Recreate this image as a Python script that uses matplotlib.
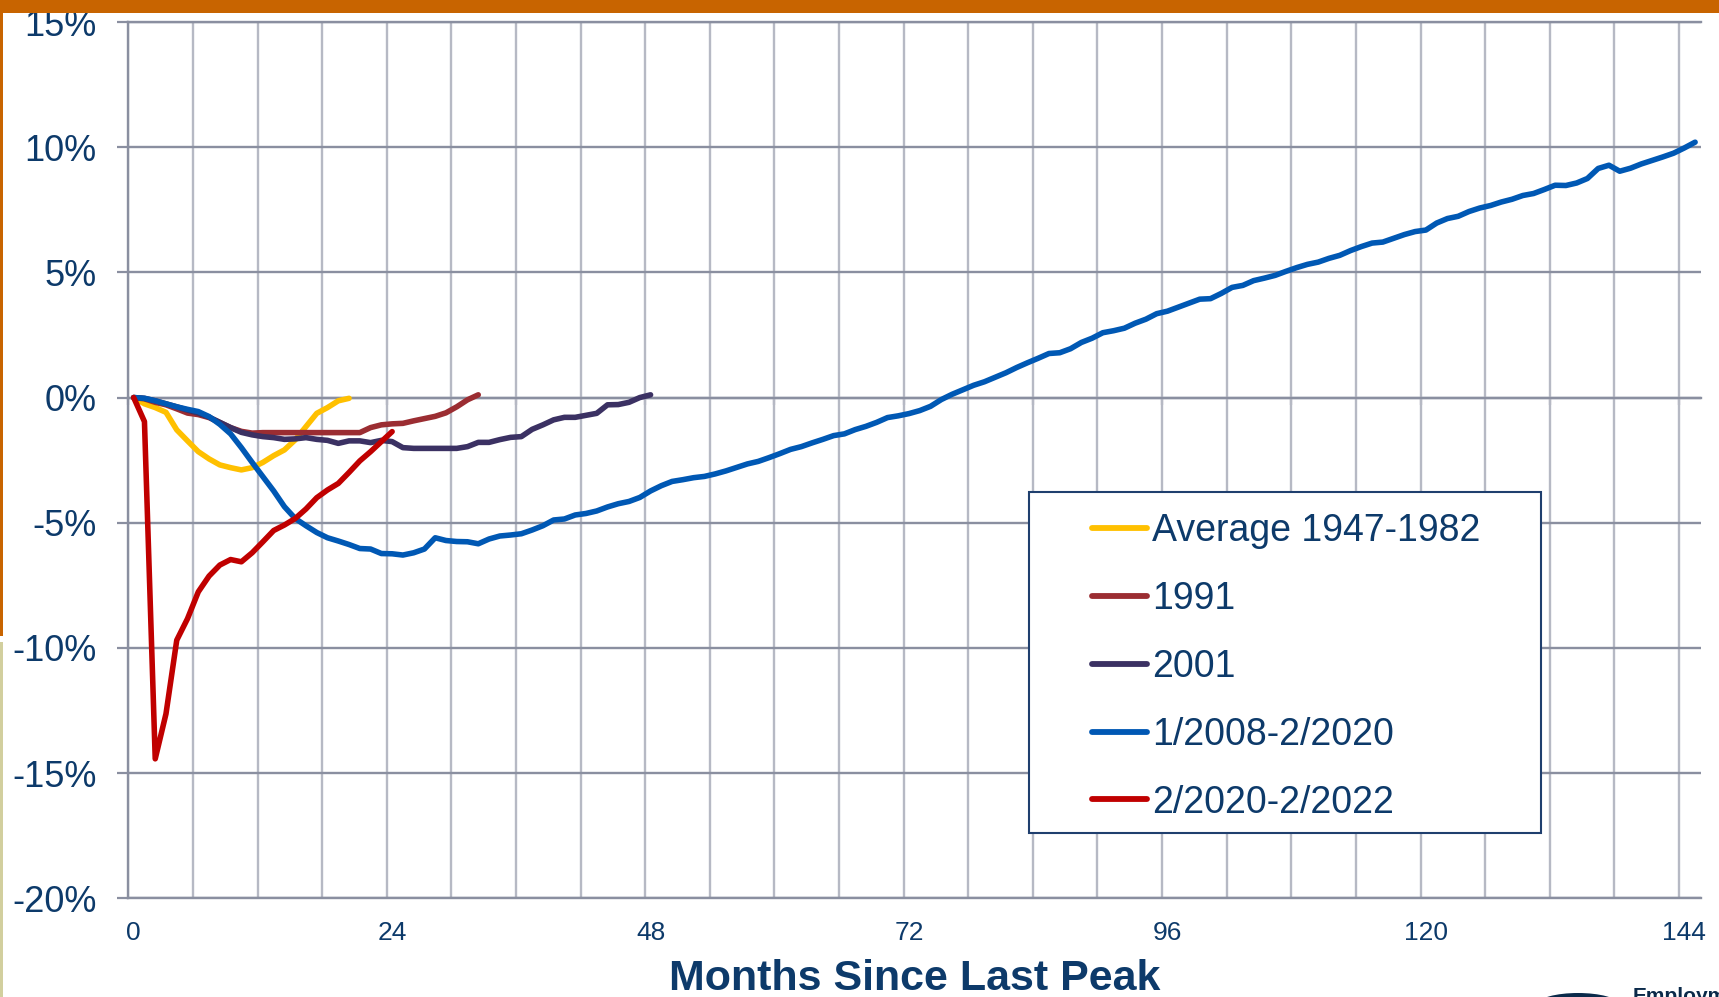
import numpy as np
import matplotlib
matplotlib.use("Agg")
import matplotlib.pyplot as plt
from matplotlib.patches import Rectangle, Ellipse

plt.rcParams['font.family'] = ['Liberation Sans', 'DejaVu Sans']

# ---- data: % change in payroll employment vs months since last peak ----
avg_1947_1982 = [0, -0.25, -0.40, -0.59, -1.29, -1.73, -2.16, -2.45, -2.69, -2.80,
                 -2.89, -2.80, -2.59, -2.32, -2.09, -1.69, -1.16, -0.63, -0.40, -0.13,
                 -0.03]
rec_1991 = [0, -0.05, -0.19, -0.29, -0.45, -0.62, -0.68, -0.80, -1.00, -1.20,
            -1.35, -1.42, -1.40, -1.40, -1.40, -1.40, -1.40, -1.40, -1.40, -1.40,
            -1.40, -1.40, -1.20, -1.09, -1.05, -1.03, -0.93, -0.84, -0.75, -0.61,
            -0.37, -0.09, 0.11]
rec_2001 = [0, -0.03, -0.13, -0.25, -0.37, -0.50, -0.62, -0.78, -0.99, -1.20,
            -1.39, -1.49, -1.56, -1.60, -1.67, -1.65, -1.60, -1.67, -1.71, -1.83,
            -1.73, -1.73, -1.80, -1.71, -1.76, -2.00, -2.03, -2.03, -2.03, -2.03,
            -2.03, -1.96, -1.79, -1.79, -1.68, -1.59, -1.56, -1.27, -1.09, -0.89,
            -0.79, -0.79, -0.71, -0.63, -0.29, -0.28, -0.19, 0.00, 0.11]
rec_2008_2020 = [0, -0.03, -0.13, -0.25, -0.37, -0.47, -0.56, -0.76, -1.07, -1.45,
                 -2.00, -2.59, -3.16, -3.73, -4.36, -4.83, -5.12, -5.39, -5.60, -5.73,
                 -5.87, -6.03, -6.05, -6.23, -6.24, -6.29, -6.20, -6.05, -5.60, -5.71,
                 -5.75, -5.76, -5.84, -5.65, -5.53, -5.49, -5.44, -5.29, -5.12, -4.89,
                 -4.85, -4.69, -4.63, -4.53, -4.37, -4.24, -4.15, -3.99, -3.73, -3.52,
                 -3.35, -3.28, -3.20, -3.15, -3.05, -2.93, -2.79, -2.65, -2.55, -2.40,
                 -2.24, -2.07, -1.96, -1.81, -1.67, -1.52, -1.45, -1.28, -1.15, -0.99,
                 -0.80, -0.73, -0.64, -0.52, -0.35, -0.08, 0.13, 0.31, 0.49, 0.63,
                 0.81, 0.99, 1.20, 1.39, 1.57, 1.76, 1.79, 1.95, 2.20, 2.37,
                 2.59, 2.67, 2.77, 2.97, 3.13, 3.35, 3.45, 3.61, 3.77, 3.93,
                 3.95, 4.16, 4.40, 4.48, 4.67, 4.77, 4.88, 5.04, 5.19, 5.32,
                 5.41, 5.56, 5.68, 5.87, 6.03, 6.17, 6.21, 6.36, 6.51, 6.63,
                 6.69, 6.97, 7.15, 7.24, 7.43, 7.57, 7.67, 7.81, 7.92, 8.07,
                 8.15, 8.31, 8.48, 8.47, 8.57, 8.75, 9.15, 9.28, 9.04, 9.16,
                 9.33, 9.47, 9.61, 9.76, 9.97, 10.20]
rec_2020_2022 = [0, -0.96, -14.43, -12.63, -9.69, -8.83, -7.76, -7.13, -6.69, -6.47,
                 -6.56, -6.20, -5.76, -5.31, -5.09, -4.83, -4.45, -4.00, -3.69, -3.43,
                 -2.99, -2.53, -2.16, -1.76, -1.36]

series_labels = ['Average 1947-1982', '1991', '2001', '1/2008-2/2020', '2/2020-2/2022']
series_values = [avg_1947_1982, rec_1991, rec_2001, rec_2008_2020, rec_2020_2022]
series_colors = ['#FFC000', '#9B2D32', '#3B3163', '#0058B4', '#C00000']

x_ticks = [0, 24, 48, 72, 96, 120, 144]
y_ticks = [-20, -15, -10, -5, 0, 5, 10, 15]
y_labels = ['-20%', '-15%', '-10%', '-5%', '0%', '5%', '10%', '15%']

navy = '#0D3A6A'
grid_dark = '#8A8FA0'
grid_light = '#B6B9C4'

# ==========================================
# Figure & axes
# ==========================================
W, H = 1719, 997
fig = plt.figure(figsize=(W / 100, H / 100), dpi=100)
fig.patch.set_facecolor('white')
ax = fig.add_axes([128.3 / W, 98.7 / H, (1700.5 - 128.3) / W, (898.3 - 22.0) / H])

for vals, lab, col in zip(series_values, series_labels, series_colors):
    months = np.arange(len(vals))
    ax.plot(months, vals, color=col, lw=4.0, label=lab,
            solid_capstyle='round', solid_joinstyle='round', zorder=3)

ax.set_xlim(-0.5, 145.5)
ax.set_ylim(-20, 15)

# category-style axis: labels on categories, gridlines between categories
ax.set_xticks(x_ticks)
ax.set_xticklabels([str(t) for t in x_ticks])
ax.set_xticks(np.arange(-0.5, 144, 6), minor=True)
ax.tick_params(axis='x', which='both', length=0, pad=16, labelsize=19, labelcolor=navy)
ax.grid(axis='x', which='minor', color=grid_light, lw=1.7, zorder=1)

ax.set_yticks(y_ticks)
ax.set_yticklabels(y_labels)
ax.tick_params(axis='y', direction='out', length=8, width=1.6, color=grid_dark,
               pad=15, labelsize=26, labelcolor=navy)
ax.grid(axis='y', which='major', color=grid_dark, lw=1.7, zorder=1)
ax.set_axisbelow(True)

ax.spines['right'].set_visible(False)
for side in ['left', 'bottom', 'top']:
    ax.spines[side].set_color(grid_dark)
    ax.spines[side].set_linewidth(1.7)

# horizontal axis crosses at 0% with tick marks every 12 months
secax = ax.secondary_xaxis(20 / 35)
secax.set_xticks(np.arange(-0.5, 144, 12))
secax.xaxis.set_ticks_position('bottom')
secax.tick_params(axis='x', direction='out', length=5, width=1.6, color=grid_dark,
                  labelbottom=False, labeltop=False)
for sp in secax.spines.values():
    sp.set_color(grid_dark)
    sp.set_linewidth(1.7)

# x axis title
fig.text(915 / W, 1 - 990 / H, 'Months Since Last Peak', ha='center', va='baseline',
         fontsize=31, fontweight='bold', color=navy)

# legend with a wide box
box = Rectangle((1029 / W, 1 - 833 / H), 512 / W, 341 / H, transform=fig.transFigure,
                facecolor='white', edgecolor='#1F3F6E', lw=1.5, zorder=4)
ax.add_patch(box)
box.set_clip_on(False)
leg = ax.legend(frameon=False, loc='upper left', bbox_to_anchor=(1092 / W, 1 - 513 / H),
                bbox_transform=fig.transFigure, fontsize=27, handlelength=1.47,
                handletextpad=0.13, labelspacing=0.85, borderpad=0, borderaxespad=0,
                labelcolor=navy)
for line in leg.get_lines():
    line.set_linewidth(4.2)
leg.set_zorder(5)

# slide decorations: orange top bar and side stripes, partial logo
fig.add_artist(Rectangle((0, 1 - 13 / H), 1, 13 / H, transform=fig.transFigure,
                         facecolor='#C86400', edgecolor='none', zorder=10))
fig.add_artist(Rectangle((0, 1 - 636 / H), 3 / W, 636 / H, transform=fig.transFigure,
                         facecolor='#C86400', edgecolor='none', zorder=10))
fig.add_artist(Rectangle((0, 0), 3 / W, (H - 642) / H, transform=fig.transFigure,
                         facecolor='#D2CF9E', edgecolor='none', zorder=10))
fig.add_artist(Ellipse((1578 / W, 1 - 1004 / H), 80 / W, 22 / H, transform=fig.transFigure,
                       facecolor='#0B2A4A', edgecolor='none', zorder=10))
fig.text(1633 / W, 1 - 987 / H, 'Employment', ha='left', va='top', fontsize=15,
         fontweight='bold', color='#0B2A4A')

fig.savefig('out.png', dpi=100)
